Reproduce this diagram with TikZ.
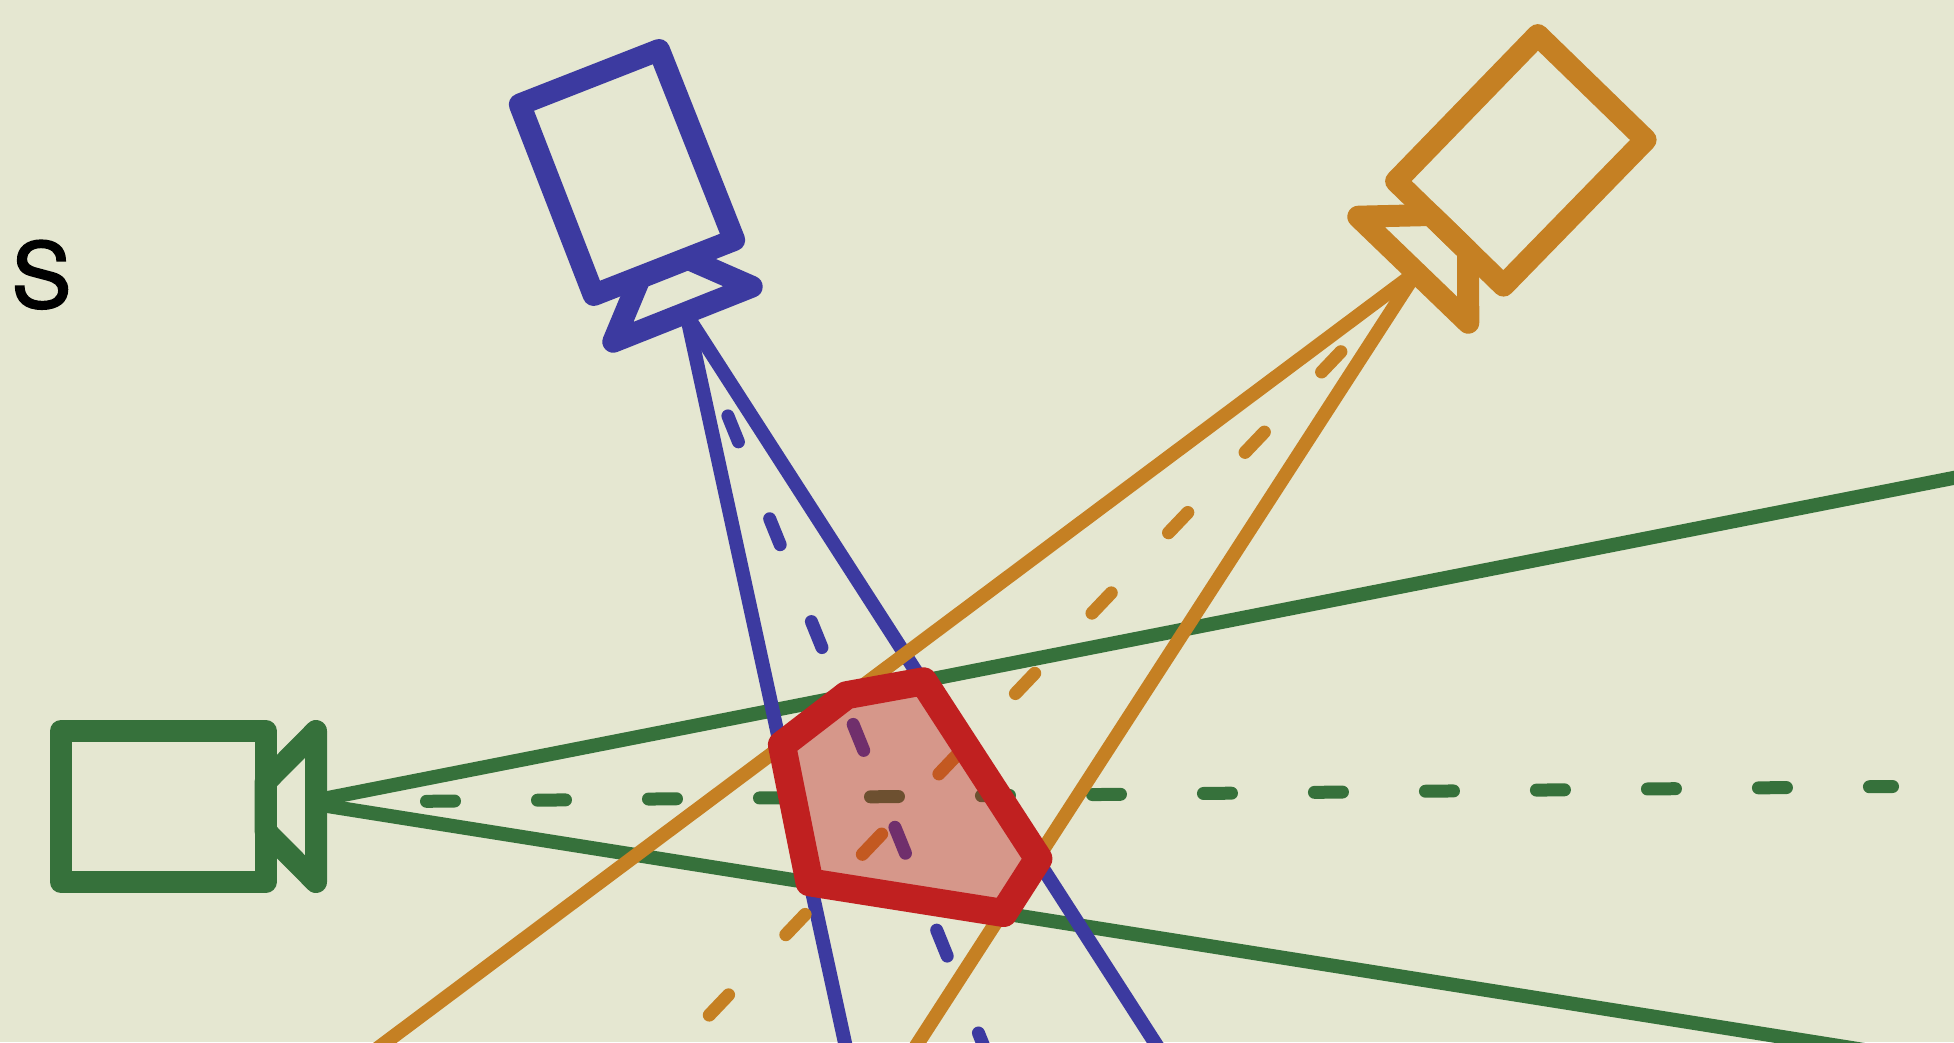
\documentclass[tikz,border=0pt]{standalone}
\usepackage{fontspec}
\setmainfont[FakeBold=2]{TeX Gyre Heros}
\definecolor{bgc}{HTML}{E5E7D1}
\definecolor{bluec}{HTML}{3C3AA0}
\definecolor{greenc}{HTML}{36713B}
\definecolor{orangec}{HTML}{C58023}
\definecolor{redc}{HTML}{C02020}
\tikzset{
  camshape/.style={line width=22pt,line join=round,line cap=round},
  rayline/.style={line width=14pt},
  axisdash/.style={line width=13pt,line cap=round,dash pattern=on 28pt off 83pt},
  overlap/.style={line width=28pt,line join=round,draw=redc,fill=redc,fill opacity=0.4,draw opacity=1},
}
\begin{document}
\begin{tikzpicture}[x=1pt,y=-1pt]
\useasboundingbox (0,0) rectangle (1954,1042);
\fill[bgc] (0,0) rectangle (1954,1042);
\clip (0,0) rectangle (1954,1042);

% green camera
\coordinate (gapexU) at (316,800.3);
\coordinate (gapexL) at (316,804.2);
\coordinate (gupper) at (1974,473.9);
\coordinate (glower) at (1974,1067.4);
\coordinate (gdashA) at (426.5,801.3);
\coordinate (gdashB) at (1892.5,786.5);
\draw[greenc,rayline] (gapexU) -- (gupper);
\draw[greenc,rayline] (gapexL) -- (glower);
\draw[greenc,axisdash] (gdashA) -- (gdashB);
\draw[greenc,camshape] (61,731) -- (265.5,731) -- (265.5,882) -- (61,882) -- cycle;
\draw[greenc,camshape] (265.5,782) -- (316,731) -- (316,882) -- (265.5,831) -- cycle;

% blue camera
\coordinate (bapex) at (686.6,315);
\coordinate (bleft) at (850,1066);
\coordinate (bright) at (1170,1066);
\coordinate (bdashA) at (727.9,415.9);
\coordinate (bdashB) at (988.6,1058);
\draw[bluec,rayline] (bapex) -- (bleft);
\draw[bluec,rayline] (bapex) -- (bright);
\draw[bluec,axisdash] (bdashA) -- (bdashB);
\draw[bluec,camshape] (519.8,104.5) -- (659,50) -- (734.2,240) -- (593.7,295) -- cycle;
\draw[bluec,camshape] (640,277.8) -- (613.3,341.7) -- (751.7,286.7) -- (688,258.8) -- cycle;

% orange camera
\coordinate (oapexU) at (1410,276.7);
\coordinate (oapexL) at (1417.8,270);
\coordinate (oupper) at (362,1060);
\coordinate (olower) at (907,1060);
\coordinate (odashA) at (1340.9,351.7);
\coordinate (odashB) at (708.4,1016);
\draw[orangec,rayline] (oapexU) -- (oupper);
\draw[orangec,rayline] (oapexL) -- (olower);
\draw[orangec,axisdash] (odashA) -- (odashB);
\draw[orangec,camshape] (1537.8,35.1) -- (1645.6,139.8) -- (1503.5,285.6) -- (1396.1,181.2) -- cycle;
\draw[orangec,camshape] (1431,215) -- (1358.3,216.7) -- (1468.3,322.7) -- (1468,251) -- cycle;

% overlap region
\draw[overlap] (781.9,744.9) -- (846.5,695.2) -- (923.4,681.3) -- (1038.4,858.7) -- (1003.6,913) -- (809.5,882.3) -- cycle;

\node[inner sep=0pt,anchor=base,font=\fontsize{90pt}{90pt}\selectfont,text=black] (letterS) at (41.5,307.5) {S};
\end{tikzpicture}
\end{document}
